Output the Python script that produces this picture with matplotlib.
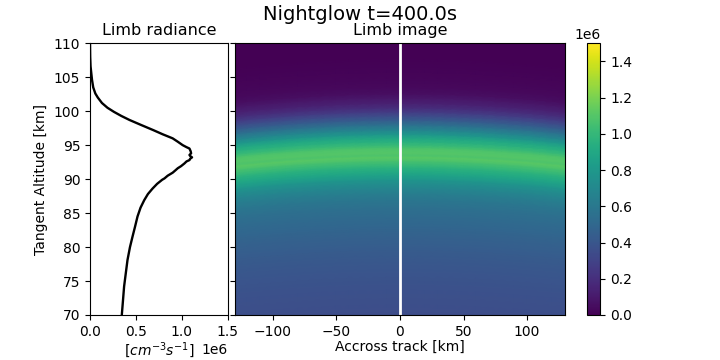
import numpy as np
import matplotlib
matplotlib.use("Agg")
import matplotlib.pyplot as plt

# limb radiance profile (altitude in km, radiance in 1e6 units)
altitude = [68.0, 70.0, 72.0, 74.2, 76.0, 78.1, 80.0, 81.5, 83.0, 84.5, 85.8, 86.9,
            87.8, 88.6, 89.3, 89.9, 90.1, 90.5, 90.95, 91.3, 91.6, 91.9, 92.3,
            92.6, 92.8, 93.0, 93.2, 93.4, 93.55, 93.8, 94.1, 94.5, 94.7, 95.0,
            95.5, 96.0, 96.6, 97.2, 98.0, 98.7, 99.3, 99.9, 100.5, 101.2, 102.0,
            102.6, 103.5, 104.6, 106.6, 108.0, 110.0, 112.0]
radiance = [0.335, 0.346, 0.358, 0.371, 0.388, 0.408, 0.435, 0.462, 0.49, 0.517,
            0.55, 0.59, 0.63, 0.68, 0.73, 0.785, 0.81, 0.845, 0.90, 0.93, 0.955,
            0.99, 1.027, 1.05, 1.082, 1.09, 1.11, 1.09, 1.082, 1.10, 1.095, 1.082,
            1.05, 1.008, 0.955, 0.899, 0.79, 0.69, 0.55, 0.43, 0.34, 0.26, 0.19,
            0.13, 0.085, 0.058, 0.035, 0.022, 0.006, 0.002, 0.0, 0.0]

# across track positions of the image columns (km)
across = [-130, -120, -110, -100, -90, -80, -70, -60, -50, -40, -30, -20, -10, 0,
          10, 20, 30, 40, 50, 60, 70, 80, 90, 100, 110, 120, 130]

earth_radius = 6371.0
t_sec = 400.0

alt = np.array(altitude)
rad = np.array(radiance) * 1e6
x = np.array(across, dtype=float)

# tangent altitude of each row drops off across track with earth curvature
X, A = np.meshgrid(x, alt)
Y = A - X**2 / (2 * earth_radius)
C = np.repeat(rad[:, None], len(x), axis=1)

fig = plt.figure(figsize=(7.2, 3.6), dpi=100)
ax1 = fig.add_axes([0.125, 0.125, 0.1915, 0.755])
ax2 = fig.add_axes([0.326, 0.125, 0.459, 0.755], sharey=ax1)
cax = fig.add_axes([0.815, 0.125, 0.019, 0.755])

ax1.plot(rad, alt, color='black', linewidth=1.7)
ax1.set_xlim(0, 1.5e6)
ax1.set_ylim(70, 110)
ax1.set_xticks([0, 0.5e6, 1.0e6, 1.5e6])
ax1.set_title('Limb radiance', fontsize=11.5)
ax1.set_ylabel('Tangent Altitude [km]')
ax1.set_xlabel(r'[$cm^{-3}s^{-1}$]', labelpad=1)

mesh = ax2.pcolormesh(X, Y, C, cmap='viridis', vmin=0, vmax=1.5e6, shading='gouraud')
ax2.axvline(0, color='white', linewidth=2)
ax2.set_xlim(-130, 130)
ax2.set_ylim(70, 110)
ax2.tick_params(labelleft=False)
ax2.set_title('Limb image', fontsize=11.5)
ax2.set_xlabel('Accross track [km]', labelpad=1)

cb = fig.colorbar(mesh, cax=cax)
cb.set_ticks([0, 0.2e6, 0.4e6, 0.6e6, 0.8e6, 1.0e6, 1.2e6, 1.4e6])

fig.suptitle(f'Nightglow t={t_sec}s', fontsize=14, y=0.985)

fig.savefig('out.png', dpi=100)
